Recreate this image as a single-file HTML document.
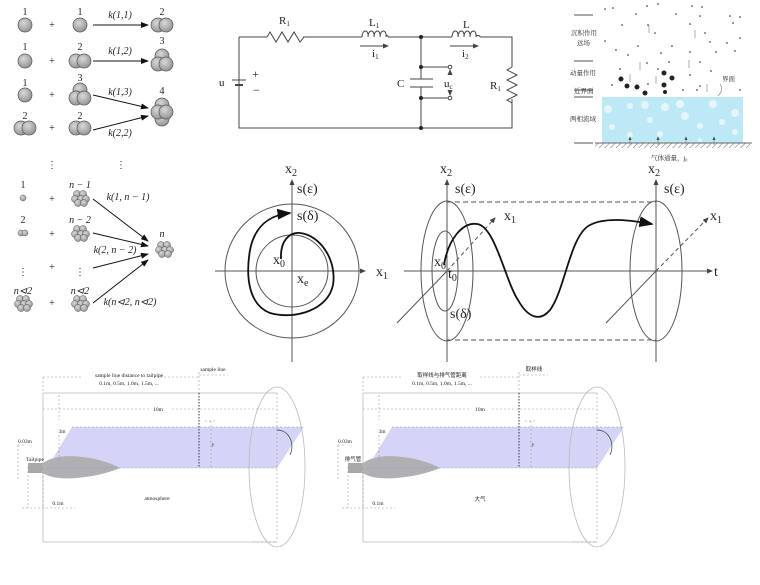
<!DOCTYPE html>
<html><head><meta charset="utf-8"><style>
html,body{margin:0;padding:0;background:#fff;}
svg{display:block;}
text{font-family:"Liberation Serif","Noto Serif CJK SC",serif;fill:#222;}
.cjk{font-family:"Liberation Sans","Noto Sans CJK SC",sans-serif;}
.sans{font-family:"Liberation Sans","DejaVu Sans",sans-serif;}
</style></head><body>
<svg width="760" height="585" viewBox="0 0 760 585" xmlns="http://www.w3.org/2000/svg">
<defs>
<radialGradient id="ball" cx="40%" cy="35%" r="70%"><stop offset="0" stop-color="#d8d8d8"/><stop offset="1" stop-color="#909090"/></radialGradient>
<marker id="ar" markerWidth="8" markerHeight="6" refX="7" refY="3" orient="auto"><path d="M0,0 L8,3 L0,6 z" fill="#111"/></marker>
<marker id="ar2" markerWidth="6" markerHeight="5" refX="5" refY="2.5" orient="auto"><path d="M0,0 L6,2.5 L0,5 z" fill="#444"/></marker>
<pattern id="hatch" width="4" height="4" patternUnits="userSpaceOnUse" patternTransform="rotate(45)"><line x1="0" y1="0" x2="0" y2="4" stroke="#666" stroke-width="1"/></pattern>
<g id="b1"><circle r="7" fill="url(#ball)" stroke="#555" stroke-width="0.7"/></g>
<g id="b2"><circle cx="-4" r="7" fill="url(#ball)" stroke="#555" stroke-width="0.7"/><circle cx="4" r="7" fill="url(#ball)" stroke="#555" stroke-width="0.7"/></g>
<g id="b3"><circle cy="-6" r="7" fill="url(#ball)" stroke="#555" stroke-width="0.7"/><circle cx="-4" cy="2" r="7" fill="url(#ball)" stroke="#555" stroke-width="0.7"/><circle cx="4" cy="2" r="7" fill="url(#ball)" stroke="#555" stroke-width="0.7"/></g>
<g id="b4"><circle cy="-7" r="7" fill="url(#ball)" stroke="#555" stroke-width="0.7"/><circle cy="7" r="7" fill="url(#ball)" stroke="#555" stroke-width="0.7"/><circle cx="-4" r="7" fill="url(#ball)" stroke="#555" stroke-width="0.7"/><circle cx="4" r="7" fill="url(#ball)" stroke="#555" stroke-width="0.7"/></g>
<g id="bn"><circle cx="-3" cy="-4" r="3.5" fill="url(#ball)" stroke="#555" stroke-width="0.5"/><circle cx="3" cy="-4" r="3.5" fill="url(#ball)" stroke="#555" stroke-width="0.5"/><circle cx="-5" cy="1" r="3.5" fill="url(#ball)" stroke="#555" stroke-width="0.5"/><circle cx="1" cy="1" r="3.5" fill="url(#ball)" stroke="#555" stroke-width="0.5"/><circle cx="6" cy="1" r="3.5" fill="url(#ball)" stroke="#555" stroke-width="0.5"/><circle cx="-2" cy="5" r="3.5" fill="url(#ball)" stroke="#555" stroke-width="0.5"/><circle cx="4" cy="5" r="3.5" fill="url(#ball)" stroke="#555" stroke-width="0.5"/></g>
</defs>

<g font-size="10" text-anchor="middle">
<text x="25" y="15">1</text><text x="80" y="15">1</text><text x="162" y="15">2</text>
<use href="#b1" x="25" y="25"/><text x="52" y="28" fill="#999">+</text><use href="#b1" x="80" y="25"/>
<line x1="93" y1="25" x2="148" y2="25" stroke="#111" marker-end="url(#ar)"/><text x="120" y="18" font-style="italic">k(1,1)</text>
<use href="#b2" x="162" y="25"/>
<text x="25" y="50">1</text><text x="80" y="50">2</text><text x="162" y="44">3</text>
<use href="#b1" x="25" y="61"/><text x="52" y="64" fill="#999">+</text><use href="#b2" x="80" y="61"/>
<line x1="93" y1="61" x2="148" y2="61" stroke="#111" marker-end="url(#ar)"/><text x="120" y="54" font-style="italic">k(1,2)</text>
<use href="#b3" x="162" y="62"/>
<text x="25" y="86">1</text><text x="80" y="81">3</text><text x="162" y="94">4</text>
<use href="#b1" x="25" y="95"/><text x="52" y="98" fill="#999">+</text><use href="#b3" x="80" y="96"/>
<text x="25" y="119">2</text><text x="80" y="119">2</text>
<use href="#b2" x="25" y="128"/><text x="52" y="131" fill="#999">+</text><use href="#b2" x="80" y="128"/>
<line x1="93" y1="95" x2="148" y2="108" stroke="#111" marker-end="url(#ar)"/><text x="120" y="95" font-style="italic">k(1,3)</text>
<line x1="93" y1="130" x2="148" y2="116" stroke="#111" marker-end="url(#ar)"/><text x="120" y="136" font-style="italic">k(2,2)</text>
<use href="#b4" x="162" y="112"/>
<text x="52" y="168" fill="#888">⋮</text><text x="121" y="168" fill="#888">⋮</text>
<text x="23" y="188">1</text><text x="80" y="188" font-style="italic">n − 1</text>
<circle cx="23" cy="198" r="3" fill="url(#ball)" stroke="#555" stroke-width="0.5"/><text x="52" y="202" fill="#999">+</text><use href="#bn" x="80" y="198"/>
<line x1="93" y1="199" x2="148" y2="241" stroke="#111" marker-end="url(#ar)"/><text x="128" y="200" font-style="italic">k(1, n − 1)</text>
<text x="23" y="223">2</text><text x="80" y="223" font-style="italic">n − 2</text>
<circle cx="21" cy="233" r="3" fill="url(#ball)" stroke="#555" stroke-width="0.5"/><circle cx="25" cy="233" r="3" fill="url(#ball)" stroke="#555" stroke-width="0.5"/><text x="52" y="237" fill="#999">+</text><use href="#bn" x="80" y="233"/>
<line x1="93" y1="233" x2="148" y2="246" stroke="#111" marker-end="url(#ar)"/><text x="115" y="253" font-style="italic">k(2, n − 2)</text>
<text x="23" y="275" fill="#888">⋮</text><text x="52" y="270" fill="#999">+</text><text x="80" y="275" fill="#888">⋮</text>
<line x1="93" y1="268" x2="148" y2="254" stroke="#111" marker-end="url(#ar)"/>
<text x="23" y="294" font-style="italic">n⊲2</text><text x="80" y="294" font-style="italic">n⊲2</text>
<use href="#bn" x="23" y="303"/><text x="52" y="306" fill="#999">+</text><use href="#bn" x="80" y="303"/>
<line x1="93" y1="303" x2="148" y2="260" stroke="#111" marker-end="url(#ar)"/><text x="130" y="305" font-style="italic">k(n⊲2, n⊲2)</text>
<text x="162" y="237" font-style="italic">n</text><use href="#bn" x="164" y="249"/>
</g>

<g stroke="#444" stroke-width="1" fill="none">
<path d="M239,37 H267 M303,37 H362 M388,37 H452 M480,37 H512 V67 M512,99 V128 H239 V80 M239,88 V37"/>
<path d="M267,37 l3,-5 l6,10 l6,-10 l6,10 l6,-10 l6,10 l4,-5"/>
<path d="M512,67 l-5,3 l10,5 l-10,5 l10,5 l-10,5 l10,5 l-10,5 l5,3"/>
<path d="M362,37 c0,-8 7,-8 6,0 c0,-8 7,-8 6,0 c0,-8 7,-8 6,0 c0,-8 7,-8 6,0 c0,-2 2,-2 2,0"/>
<path d="M452,37 c0,-8 7,-8 6,0 c0,-8 7,-8 6,0 c0,-8 7,-8 6,0 c0,-8 7,-8 6,0 c0,-2 4,-2 4,0"/>
<line x1="232" y1="80" x2="246" y2="80"/><line x1="235" y1="85" x2="243" y2="85" stroke-width="2"/>
<path d="M421,37 V79 M421,87 V128 M410,79 H433 M410,87 H433 M421,67 H448 M421,98 H448"/>
<circle cx="450" cy="67" r="1.8" fill="#fff"/><circle cx="450" cy="98" r="1.8" fill="#fff"/>
<line x1="360" y1="46" x2="388" y2="46" marker-end="url(#ar2)"/><line x1="450" y1="46" x2="478" y2="46" marker-end="url(#ar2)"/>
<line x1="450" y1="74" x2="450" y2="70" marker-end="url(#ar2)"/><line x1="450" y1="91" x2="450" y2="95" marker-end="url(#ar2)"/>
</g>
<g fill="#222"><circle cx="421" cy="37" r="2"/><circle cx="421" cy="67" r="2"/><circle cx="421" cy="98" r="2"/><circle cx="421" cy="128" r="2"/></g>
<g font-size="11" fill="#333">
<text x="279" y="24">R<tspan font-size="7" dy="2">1</tspan></text>
<text x="369" y="26">L<tspan font-size="7" dy="2">1</tspan></text>
<text x="463" y="28">L</text>
<text x="372" y="57">i<tspan font-size="7" dy="2">1</tspan></text>
<text x="462" y="57">i<tspan font-size="7" dy="2">2</tspan></text>
<text x="219" y="86">u</text><text x="252" y="78" font-size="12">+</text><text x="253" y="94" font-size="12">−</text>
<text x="397" y="87">C</text><text x="444" y="87">u<tspan font-size="7" dy="2">c</tspan></text>
<text x="490" y="89">R<tspan font-size="7" dy="2">1</tspan></text>
</g>

<g>
<rect x="602" y="97" width="141" height="46" fill="#bde8f5"/>
<g fill="#e4f6fb"><circle cx="608" cy="109" r="4"/><circle cx="630" cy="106" r="3"/><circle cx="645" cy="105" r="4"/><circle cx="665" cy="107" r="4"/><circle cx="680" cy="104" r="4"/><circle cx="713" cy="104" r="4"/><circle cx="685" cy="116" r="4"/><circle cx="735" cy="113" r="4"/><circle cx="650" cy="120" r="3"/><circle cx="612" cy="127" r="3"/><circle cx="700" cy="126" r="3"/><circle cx="722" cy="122" r="3"/><circle cx="630" cy="135" r="3"/><circle cx="660" cy="134" r="3"/><circle cx="735" cy="132" r="3"/><circle cx="700" cy="140" r="2"/></g>
<rect x="595" y="143" width="155" height="5" fill="url(#hatch)"/><line x1="595" y1="143" x2="752" y2="143" stroke="#666"/>
<g stroke="#555"><line x1="574" y1="15" x2="593" y2="15"/><line x1="574" y1="61" x2="593" y2="61"/><line x1="574" y1="90" x2="593" y2="90"/><line x1="574" y1="97" x2="593" y2="97"/><line x1="574" y1="143" x2="593" y2="143"/></g>
<g fill="#222"><circle cx="621" cy="79" r="2.5"/><circle cx="627" cy="86" r="2.5"/><circle cx="637" cy="87" r="2.5"/><circle cx="645" cy="93" r="2.5"/><circle cx="664" cy="73" r="2.5"/><circle cx="672" cy="78" r="2.5"/><circle cx="664" cy="85" r="2.5"/><circle cx="665" cy="92" r="2"/>
<circle cx="605" cy="9" r="0.8"/><circle cx="613" cy="8" r="0.8"/><circle cx="647" cy="6" r="0.8"/><circle cx="658" cy="4" r="0.8"/><circle cx="692" cy="6" r="0.8"/><circle cx="702" cy="7" r="0.8"/><circle cx="636" cy="14" r="0.8"/><circle cx="676" cy="14" r="0.8"/><circle cx="700" cy="16" r="0.8"/><circle cx="730" cy="16" r="0.8"/><circle cx="740" cy="17" r="0.8"/><circle cx="622" cy="25" r="0.8"/><circle cx="690" cy="24" r="0.8"/><circle cx="733" cy="23" r="0.8"/><circle cx="648" cy="25" r="0.8"/><circle cx="655" cy="33" r="0.8"/><circle cx="705" cy="33" r="0.8"/><circle cx="740" cy="38" r="0.8"/><circle cx="605" cy="41" r="0.8"/><circle cx="638" cy="46" r="0.8"/><circle cx="672" cy="46" r="0.8"/><circle cx="710" cy="42" r="0.8"/><circle cx="727" cy="43" r="0.8"/><circle cx="616" cy="50" r="0.8"/><circle cx="628" cy="55" r="0.8"/><circle cx="661" cy="53" r="0.8"/><circle cx="690" cy="52" r="0.8"/><circle cx="716" cy="52" r="0.8"/><circle cx="735" cy="51" r="0.8"/><circle cx="647" cy="63" r="0.8"/><circle cx="669" cy="62" r="0.8"/><circle cx="700" cy="62" r="0.8"/><circle cx="620" cy="69" r="0.8"/><circle cx="658" cy="69" r="0.8"/><circle cx="711" cy="71" r="0.8"/><circle cx="690" cy="75" r="0.8"/><circle cx="683" cy="90" r="0.8"/><circle cx="697" cy="90" r="0.8"/><circle cx="700" cy="86" r="0.8"/><circle cx="612" cy="85" r="0.8"/><circle cx="740" cy="90" r="0.8"/><circle cx="648" cy="84" r="0.8"/></g>
<g stroke="#777" stroke-width="0.6"><line x1="649" y1="25" x2="649" y2="33"/><line x1="695" y1="30" x2="695" y2="38"/><line x1="640" y1="62" x2="640" y2="70"/><line x1="689" y1="60" x2="689" y2="68"/><line x1="630" y1="74" x2="630" y2="82"/><line x1="656" y1="76" x2="656" y2="84"/><line x1="707" y1="84" x2="707" y2="92"/>
<line x1="630" y1="145" x2="630" y2="137" marker-end="url(#ar2)"/><line x1="658" y1="145" x2="658" y2="137" marker-end="url(#ar2)"/><line x1="686" y1="145" x2="686" y2="137" marker-end="url(#ar2)"/><line x1="714" y1="145" x2="714" y2="137" marker-end="url(#ar2)"/>
<path d="M720,84 Q724,90 718,96" fill="none"/></g>
<g class="cjk" font-size="6.5" fill="#333"><text x="571" y="35">沉积作用</text><text x="577" y="45">远场</text><text x="570" y="75">动量作用</text><text x="574" y="93">近界面</text><text x="570" y="121">两相流域</text><text x="722" y="81">界面</text><text x="651" y="160">气体通量，j₀</text></g>
</g>

<g stroke="#555" fill="none">
<line x1="215" y1="271" x2="365" y2="271" marker-end="url(#ar2)"/>
<line x1="292" y1="362" x2="292" y2="180" marker-end="url(#ar2)"/>
<circle cx="292" cy="271" r="67"/><circle cx="292" cy="271" r="36"/>
<path d="M281,259 C280,240 290,232 300,233 C320,235 337,260 333,285 C328,310 295,320 270,313 C250,305 245,280 250,250 C255,225 270,215 290,213" stroke="#111" stroke-width="1.8" marker-end="url(#ar)"/>
</g>
<g class="sans" font-size="14" fill="#222">
<text x="285" y="173">x<tspan font-size="10" dy="3">2</tspan></text>
<text x="297" y="193">s(ε)</text><text x="297" y="220">s(δ)</text>
<text x="273" y="264">x<tspan font-size="10" dy="3">0</tspan></text>
<text x="297" y="283">x<tspan font-size="10" dy="3">e</tspan></text>
<text x="376" y="276">x<tspan font-size="10" dy="3">1</tspan></text>
</g>

<g stroke="#555" fill="none">
<line x1="404" y1="271" x2="712" y2="271" marker-end="url(#ar2)"/>
<line x1="447" y1="362" x2="447" y2="180" marker-end="url(#ar2)"/>
<line x1="656" y1="362" x2="656" y2="180" marker-end="url(#ar2)"/>
<ellipse cx="447" cy="271" rx="26" ry="70"/><ellipse cx="445" cy="271" rx="13" ry="40"/>
<ellipse cx="656" cy="271" rx="26" ry="70"/>
<line x1="397" y1="323" x2="447" y2="271"/><line x1="447" y1="271" x2="495" y2="218" stroke-dasharray="4,3" marker-end="url(#ar2)"/>
<line x1="606" y1="323" x2="656" y2="271"/><line x1="656" y1="271" x2="708" y2="218" stroke-dasharray="4,3" marker-end="url(#ar2)"/>
<line x1="447" y1="202" x2="656" y2="202" stroke-dasharray="5,3"/><line x1="447" y1="340" x2="656" y2="340" stroke-dasharray="5,3"/>
<path d="M444,265 C448,240 462,222 477,224 C495,226 505,280 518,300 C528,318 540,322 550,310 C565,290 570,235 590,225 C605,217 630,220 652,224" stroke="#111" stroke-width="1.8" marker-end="url(#ar)"/>
</g>
<g class="sans" font-size="14" fill="#222">
<text x="440" y="173">x<tspan font-size="10" dy="3">2</tspan></text>
<text x="455" y="193">s(ε)</text><text x="504" y="220">x<tspan font-size="10" dy="3">1</tspan></text>
<text x="434" y="266">x<tspan font-size="10" dy="3">0</tspan></text>
<text x="448" y="278">t<tspan font-size="10" dy="3">0</tspan></text>
<text x="450" y="318">s(δ)</text>
<text x="648" y="173">x<tspan font-size="10" dy="3">2</tspan></text>
<text x="664" y="193">s(ε)</text><text x="710" y="220">x<tspan font-size="10" dy="3">1</tspan></text>
<text x="714" y="276">t</text>
</g>

<g id="plume">
<polygon points="72,427 304,427 277,468 47,468" fill="#d4d4f6"/>
<path d="M43,463 C55,455 70,455 90,458 C105,461 115,465 120,468 C110,472 100,475 85,477 C65,480 50,478 43,473 Z" fill="#b0b0b4"/>
<rect x="28" y="463" width="15" height="10" fill="#a8a8a8"/>
<g stroke="#bbb" fill="none" stroke-width="0.8">
<path d="M43,393 H277 M43,393 V542 H277"/>
<ellipse cx="277" cy="467" rx="28" ry="80"/>
</g>
<g stroke="#999" fill="none" stroke-width="0.6" stroke-dasharray="2,2">
<path d="M43,377 V393 M43,377 H83 M160,377 H199 M199,372 V393 M199,375 H228"/>
<path d="M43,409 H150 M172,409 H277 M59,395 V420 M59,435 V468 M72,427 H304 M47,468 H277 M277,393 V542 M253,542 H277"/>
<path d="M211,421 V468 M205,421 H215 M18,445 V480 M18,445 H24 M28,467 V508 M22,508 H75 M43,468 V508"/>
</g>
<line x1="199" y1="393" x2="199" y2="468" stroke="#333" stroke-width="1" stroke-dasharray="1.5,1.5"/>
<path d="M277,430 C290,430 295,445 290,455" stroke="#333" fill="none" stroke-width="0.7"/>
</g>
<use href="#plume" x="320" y="0"/>
<g font-size="5.5" fill="#444" text-anchor="middle">
<text x="129" y="377">sample line distance to tailpipe</text><text x="129" y="385">0.1m, 0.5m, 1.0m, 1.5m, ...</text>
<text x="213" y="371">sample line</text><text x="158" y="411">10m</text>
<text x="62" y="433">3m</text><text x="25" y="443">0.03m</text><text x="35" y="461">Tailpipe</text>
<text x="213" y="446">y</text><text x="58" y="505">0.1m</text><text x="157" y="500">atmosphere</text>
</g>
<g font-size="5.5" fill="#444" text-anchor="middle">
<text x="442" y="377" class="cjk">取样线与排气管距离</text><text x="442" y="385">0.1m, 0.5m, 1.0m, 1.5m, ...</text>
<text x="534" y="371" class="cjk">取样线</text><text x="480" y="411">10m</text>
<text x="382" y="433">3m</text><text x="345" y="443">0.03m</text><text x="353" y="461" class="cjk">排气管</text>
<text x="533" y="446">y</text><text x="378" y="505">0.1m</text><text x="480" y="501" class="cjk">大气</text>
</g>
</svg>
</body></html>
